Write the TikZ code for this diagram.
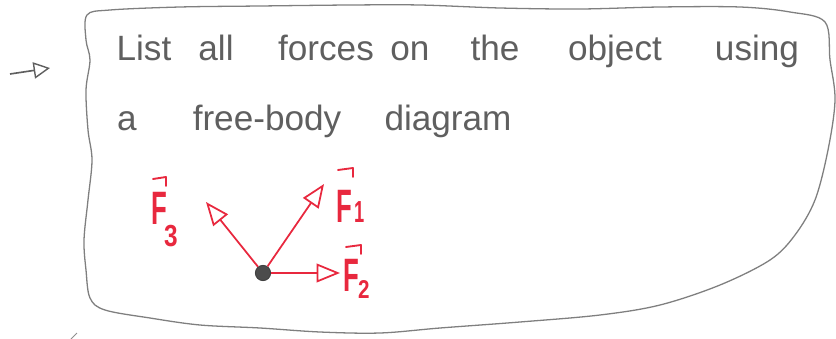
\documentclass[tikz,border=0pt]{standalone}
\usepackage{fontspec}
\setmainfont{Liberation Sans}
\setsansfont{Liberation Sans}
\usetikzlibrary{arrows.meta}
\definecolor{pencil}{RGB}{95,95,95}
\definecolor{redink}{RGB}{232,40,62}
\tikzset{
  word/.style={text=pencil, font=\fontsize{30}{34}\selectfont, inner sep=0pt, anchor=base},
  force/.style={draw=redink, line width=1.5pt, -{Triangle[open, length=20pt, width=16pt, line width=1.5pt]}},
  flabel/.style={text=redink, font=\fontsize{40}{46}\selectfont\bfseries, inner sep=0pt, anchor=base west},
  fsub/.style={text=redink, font=\fontsize{26}{30}\selectfont\bfseries, inner sep=0pt, anchor=base west},
  vecmark/.style={draw=redink, line width=1.6pt, line join=round, line cap=round},
  outline/.style={draw=pencil!80, line width=1.1pt, line join=round},
}
\begin{document}
\begin{tikzpicture}[x=0.03cm, y=-0.03cm]
\useasboundingbox (0,0) rectangle (836,339);
% wavy frame
\draw[outline] plot[smooth cycle, tension=0.55] coordinates {
 (87,15) (110,10) (180,7) (260,6) (350,5) (420,5) (500,8) (580,9) (660,7)
 (740,7) (790,12) (825,22) (830,60) (835,100) (828,150) (815,200) (795,235)
 (770,260) (720,285) (660,305) (600,315) (520,322) (440,328) (380,333)
 (320,332) (260,328) (200,325) (150,318) (105,310) (90,298) (86,270)
 (84,240) (88,200) (92,160) (88,130) (86,90) (90,60) (86,40)};
% left pointer
\coordinate (pa) at (10,74);
\coordinate (pb) at (50,68);
\draw[draw=pencil, line width=1.4pt, -{Triangle[open, length=14pt, width=14pt, line width=1.2pt]}] (pa) -- (pb);
% small stroke bottom-left
\coordinate (sa) at (71,339);
\coordinate (sb) at (77,333);
\draw[draw=pencil!70, line width=0.9pt] (sa) -- (sb);
% text line 1
\node[word] (w1) at (144,61) {List};
\node[word] (w2) at (216,61) {all};
\node[word] (w3) at (326,61) {forces};
\node[word] (w4) at (410,61) {on};
\node[word] (w5) at (495,61) {the};
\node[word] (w6) at (615,61) {object};
\node[word] (w7) at (757,61) {using};
% text line 2
\node[word] (w8) at (127,131) {a};
\node[word] (w9) at (267,131) {free-body};
\node[word] (w10) at (448,131) {diagram};
% free-body diagram
\node[circle, fill=pencil!80!black, draw=black!75, line width=0.8pt, minimum size=13pt, inner sep=0pt] (O) at (263,273) {};
\coordinate (t1) at (324,184);
\coordinate (t2) at (340,273);
\coordinate (t3) at (206,202);
\draw[force] (O) -- (t1);
\draw[force] (O.east) -- (t2);
\draw[force] (O) -- (t3);
% labels
\node[flabel] (f1) at (336,222) {\scalebox{0.55}[1]{F}};
\node[fsub] (f1s) at (354,222) {\scalebox{0.6}[1]{1}};
\coordinate (v1a) at (338,170);
\coordinate (v1b) at (353,168);
\coordinate (v1c) at (353,177);
\draw[vecmark] (v1a) -- (v1b) -- (v1c);
\node[flabel] (f2) at (343,291) {\scalebox{0.55}[1]{F}};
\node[fsub, font=\fontsize{22}{26}\selectfont\bfseries] (f2s) at (358,298) {\scalebox{0.8}[1]{2}};
\coordinate (v2a) at (346,247);
\coordinate (v2b) at (361,245);
\coordinate (v2c) at (361,254);
\draw[vecmark] (v2a) -- (v2b) -- (v2c);
\node[flabel] (f3) at (151,224) {\scalebox{0.55}[1]{F}};
\node[fsub] (f3s) at (164,246) {\scalebox{0.8}[1]{3}};
\coordinate (v3a) at (153,179);
\coordinate (v3b) at (166,177);
\coordinate (v3c) at (166,186);
\draw[vecmark] (v3a) -- (v3b) -- (v3c);
\end{tikzpicture}
\end{document}
